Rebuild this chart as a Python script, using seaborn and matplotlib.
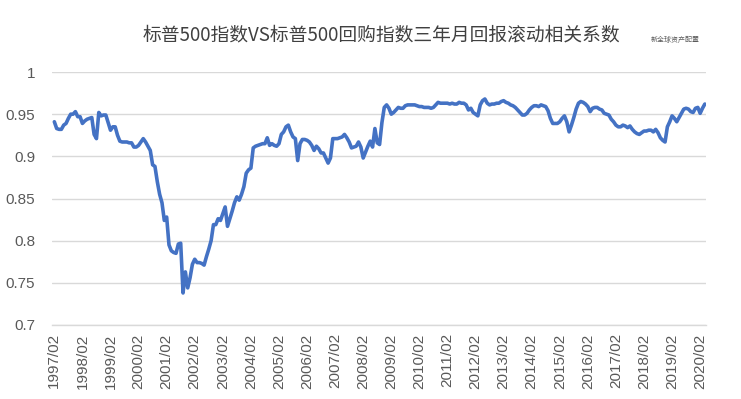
import pandas as pd
import matplotlib.pyplot as plt
import seaborn as sns

# Monthly 3-year rolling correlation, S&P 500 vs S&P 500 Buyback, from 1997/02
y1997 = [0.941, 0.933, 0.932, 0.932, 0.937, 0.939, 0.945, 0.950, 0.950, 0.953, 0.947, 0.947]
y1998 = [0.939, 0.942, 0.944, 0.945, 0.946, 0.926, 0.921, 0.952, 0.948, 0.949, 0.949, 0.940]
y1999 = [0.931, 0.935, 0.935, 0.925, 0.918, 0.917, 0.917, 0.917, 0.916, 0.916, 0.911, 0.911]
y2000 = [0.913, 0.917, 0.921, 0.917, 0.912, 0.907, 0.890, 0.888, 0.870, 0.855, 0.845, 0.824]
y2001 = [0.828, 0.795, 0.788, 0.786, 0.785, 0.796, 0.797, 0.738, 0.763, 0.744, 0.756, 0.772]
y2002 = [0.778, 0.774, 0.774, 0.773, 0.771, 0.781, 0.790, 0.800, 0.819, 0.819, 0.826, 0.824]
y2003 = [0.832, 0.840, 0.817, 0.826, 0.835, 0.845, 0.852, 0.848, 0.855, 0.864, 0.880, 0.884]
y2004 = [0.886, 0.910, 0.912, 0.913, 0.914, 0.915, 0.915, 0.922, 0.913, 0.915, 0.913, 0.912]
y2005 = [0.915, 0.926, 0.929, 0.935, 0.937, 0.929, 0.923, 0.921, 0.895, 0.915, 0.920, 0.920]
y2006 = [0.919, 0.917, 0.913, 0.907, 0.912, 0.909, 0.904, 0.904, 0.898, 0.892, 0.898, 0.921]
y2007 = [0.921, 0.921, 0.922, 0.923, 0.926, 0.922, 0.917, 0.910, 0.911, 0.912, 0.917, 0.911]
y2008 = [0.898, 0.905, 0.912, 0.918, 0.911, 0.933, 0.916, 0.914, 0.940, 0.958, 0.961, 0.957]
y2009 = [0.950, 0.952, 0.955, 0.958, 0.957, 0.957, 0.960, 0.961, 0.961, 0.961, 0.961, 0.960]
y2010 = [0.959, 0.959, 0.958, 0.958, 0.958, 0.957, 0.958, 0.961, 0.964, 0.963, 0.963, 0.963]
y2011 = [0.963, 0.962, 0.963, 0.962, 0.962, 0.964, 0.963, 0.963, 0.961, 0.955, 0.957, 0.952]
y2012 = [0.950, 0.948, 0.961, 0.966, 0.968, 0.963, 0.961, 0.962, 0.962, 0.963, 0.963, 0.965]
y2013 = [0.966, 0.964, 0.963, 0.961, 0.960, 0.958, 0.955, 0.952, 0.949, 0.949, 0.951, 0.955]
y2014 = [0.958, 0.960, 0.960, 0.959, 0.961, 0.960, 0.959, 0.954, 0.945, 0.939, 0.939, 0.939]
y2015 = [0.941, 0.945, 0.948, 0.941, 0.929, 0.937, 0.946, 0.956, 0.963, 0.965, 0.964, 0.962]
y2016 = [0.959, 0.953, 0.957, 0.958, 0.958, 0.956, 0.955, 0.951, 0.950, 0.949, 0.944, 0.941]
y2017 = [0.937, 0.935, 0.935, 0.937, 0.936, 0.934, 0.936, 0.932, 0.929, 0.927, 0.926, 0.928]
y2018 = [0.930, 0.930, 0.931, 0.931, 0.929, 0.932, 0.928, 0.922, 0.919, 0.917, 0.935, 0.941]
y2019 = [0.948, 0.945, 0.941, 0.946, 0.951, 0.956, 0.957, 0.956, 0.953, 0.952, 0.957, 0.958]
y2020 = [0.951, 0.957, 0.962]

corr = (y1997 + y1998 + y1999 + y2000 + y2001 + y2002 + y2003 + y2004 + y2005 + y2006
        + y2007 + y2008 + y2009 + y2010 + y2011 + y2012 + y2013 + y2014 + y2015 + y2016
        + y2017 + y2018 + y2019 + y2020)
months = pd.date_range('1997-02-01', periods=len(corr), freq='MS').strftime('%Y/%m').tolist()
yticks = [0.7, 0.75, 0.8, 0.85, 0.9, 0.95, 1.0]
ytick_labels = ['0.7', '0.75', '0.8', '0.85', '0.9', '0.95', '1']

title = '标普500指数VS标普500回购指数三年月回报滚动相关系数'
source = '新全球资产配置'

df = pd.DataFrame({'pos': range(len(corr)), 'month': months, 'corr': corr})

sns.set_style('white')
plt.rcParams['font.family'] = ['Liberation Sans', 'Noto Sans CJK SC', 'DejaVu Sans']

fig = plt.figure(figsize=(7.41, 3.99), dpi=100)
ax = fig.add_axes([52 / 741, 1 - 325 / 399, 654 / 741, 253 / 399])

sns.lineplot(data=df, x='pos', y='corr', color='#4472C4', linewidth=2.6, ax=ax)

ax.set_xlim(-1, len(corr) - 0.5)
ax.set_ylim(0.7, 1.0)
ax.set_yticks(yticks)
ax.set_yticklabels(ytick_labels)
tick_pos = df['pos'][::12]
ax.set_xticks(tick_pos)
ax.set_xticklabels(df['month'][::12], rotation=90)
ax.tick_params(axis='both', length=0, labelsize=11, colors='#595959')
ax.tick_params(axis='y', pad=12)
ax.tick_params(axis='x', pad=6)
ax.set_xlabel('')
ax.set_ylabel('')

ax.yaxis.grid(True, color='#D9D9D9', linewidth=1)
ax.set_axisbelow(True)
for s in ['top', 'right', 'left']:
    ax.spines[s].set_visible(False)
ax.spines['bottom'].set_color('#D9D9D9')
ax.spines['bottom'].set_linewidth(1)

fig.text(381 / 741, 1 - 35 / 399, title, ha='center', va='center', fontsize=13.5,
         color='#404040', family=['Noto Sans CJK SC', 'DejaVu Sans'])
fig.text(675 / 741, 1 - 40 / 399, source, ha='center', va='center', fontsize=5,
         color='#595959', family=['Noto Sans CJK SC', 'DejaVu Sans'])

fig.savefig('out.png', dpi=100)
